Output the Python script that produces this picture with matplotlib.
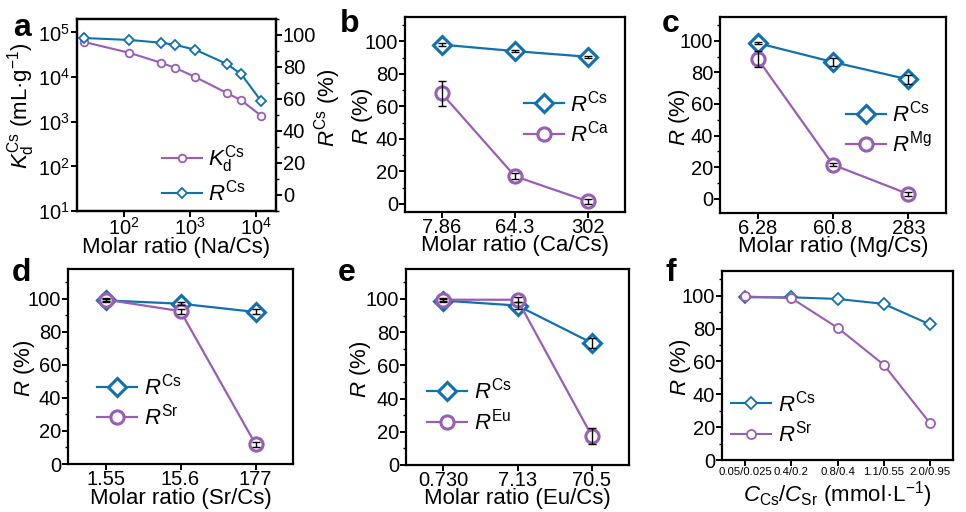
import numpy as np
import matplotlib
matplotlib.use('Agg')
import matplotlib.pyplot as plt
from matplotlib.ticker import MultipleLocator, LogLocator, NullFormatter

plt.rcParams['font.family'] = ['Liberation Sans', 'DejaVu Sans']
plt.rcParams['mathtext.fontset'] = 'custom'
plt.rcParams['mathtext.rm'] = 'Liberation Sans'
plt.rcParams['mathtext.it'] = 'Liberation Sans:italic'
plt.rcParams['mathtext.bf'] = 'Liberation Sans:bold'
plt.rcParams['axes.linewidth'] = 1.6
plt.rcParams['xtick.major.width'] = 1.4
plt.rcParams['ytick.major.width'] = 1.4
plt.rcParams['ytick.minor.width'] = 1.0

BLUE = '#1170b0'
PURPLE = '#9a5db5'
TICK_FS = 14.5
LAB_FS = 16

# panel a
na_ratio = [25, 120, 360, 600, 1200, 3600, 6000, 12000]
kd_cs = [61000, 35000, 21000, 16000, 10000, 4400, 3000, 1350]
r_cs_a = [98.1, 96.9, 95.2, 93.8, 90.8, 81.9, 75.4, 58.5]

# panel b
ca_labels = ['7.86', '64.3', '302']
b_cs = [98, 94, 90.5]
b_cs_err = [0.8, 0.8, 0.8]
b_ca = [68, 17, 1.5]
b_ca_err = [7.5, 1.8, 1.8]

# panel c
mg_labels = ['6.28', '60.8', '283']
c_cs = [98.5, 86.5, 75.5]
c_cs_err = [0.8, 2.5, 3.0]
c_mg = [88.5, 21.5, 3]
c_mg_err = [5.0, 1.0, 1.5]

# panel d
sr_labels = ['1.55', '15.6', '177']
d_cs = [99, 97, 92]
d_cs_err = [0.8, 1.0, 1.5]
d_sr = [99.5, 92.5, 12]
d_sr_err = [0.8, 1.5, 1.5]

# panel e
eu_labels = ['0.730', '7.13', '70.5']
e_cs = [99, 96, 73.5]
e_cs_err = [0.8, 2.0, 3.0]
e_eu = [99.5, 99.5, 17.5]
e_eu_err = [0.8, 1.5, 5.0]

# panel f
conc_labels = ['0.05/0.025', '0.4/0.2', '0.8/0.4', '1.1/0.55', '2.0/0.95']
f_cs = [99, 99, 98, 95, 82.5]
f_sr = [99.5, 98.5, 80.5, 58, 22.5]

W, H = 966, 512
fig = plt.figure(figsize=(W / 100, H / 100), dpi=100)

LEG_KW = dict(frameon=False, fontsize=LAB_FS, handlelength=1.8, handletextpad=0.3,
              labelspacing=0.2, borderpad=0, borderaxespad=0)


def add_ax(x0, y0, x1, y1):
    return fig.add_axes([x0 / W, 1 - y1 / H, (x1 - x0) / W, (y1 - y0) / H])


def style_r_axis(ax, ylab_x):
    ax.yaxis.set_major_locator(MultipleLocator(20))
    ax.yaxis.set_minor_locator(MultipleLocator(10))
    ax.tick_params(axis='both', which='major', labelsize=TICK_FS, direction='out', length=4, pad=1)
    ax.tick_params(axis='x', which='major', pad=0)
    ax.tick_params(axis='y', which='minor', direction='out', length=2.5)
    ax.set_ylabel(r'$\mathit{R}$ (%)', fontsize=LAB_FS)
    ax.yaxis.set_label_coords(ylab_x, 0.49)


def cat_panel(ax, labels, cs, cs_err, other, other_err, el, xlabel, ylim, legloc, anchor, ylab_x, xlab_y):
    x = np.arange(len(labels))
    ax.plot(x, cs, '-', color=BLUE, lw=1.6, marker='D', ms=9, mfc='white', mec=BLUE, mew=2.2,
            label=r'$\mathit{R}^{\mathrm{Cs}}$', zorder=3)
    ax.plot(x, other, '-', color=PURPLE, lw=1.6, marker='o', ms=9.5, mfc='white', mec=PURPLE, mew=2.2,
            label=r'$\mathit{R}^{\mathrm{' + el + '}}$', zorder=3)
    ax.errorbar(x, cs, yerr=cs_err, fmt='none', ecolor='black', elinewidth=1.0, capsize=3, zorder=4)
    ax.errorbar(x, other, yerr=other_err, fmt='none', ecolor='black', elinewidth=1.0, capsize=3, zorder=4)
    ax.set_xlim(-0.5, len(labels) - 0.5)
    ax.set_ylim(*ylim)
    ax.set_xticks(x)
    ax.set_xticklabels(labels)
    ax.set_xlabel(xlabel, fontsize=LAB_FS)
    ax.xaxis.set_label_coords(0.5, xlab_y)
    style_r_axis(ax, ylab_x)
    ax.legend(loc=legloc, bbox_to_anchor=anchor, **LEG_KW)


# ---- panel a
axa = add_ax(77, 19, 276, 211)
axa.set_xscale('log')
axa.set_yscale('log')
axa.plot(na_ratio, kd_cs, '-', color=PURPLE, lw=1.5, marker='o', ms=5.5, mfc='white', mec=PURPLE, mew=1.3,
         label=r'$\mathit{K}_{\mathrm{d}}^{\mathrm{Cs}}$')
axa.set_xlim(19.4, 20000)
axa.set_ylim(10, 2e5)
axa.yaxis.set_major_locator(LogLocator(base=10, numticks=10))
axa.yaxis.set_minor_formatter(NullFormatter())
axa.tick_params(axis='y', which='minor', left=False)
axa.tick_params(axis='x', which='minor', bottom=False)
axa.tick_params(axis='both', which='major', labelsize=TICK_FS, direction='out', length=4, pad=1)
axa.tick_params(axis='x', which='major', pad=0)
axa.set_xlabel('Molar ratio (Na/Cs)', fontsize=LAB_FS)
axa.xaxis.set_label_coords(0.5, -0.135)
axa.set_ylabel(r'$\mathit{K}_{\mathrm{d}}^{\mathrm{Cs}}$ (mL·g$^{-1}$)', fontsize=LAB_FS)
axa.yaxis.set_label_coords(-0.2, 0.55)
axa2 = axa.twinx()
axa2.plot(na_ratio, r_cs_a, '-', color=BLUE, lw=1.5, marker='D', ms=5.5, mfc='white', mec=BLUE, mew=1.3,
          label=r'$\mathit{R}^{\mathrm{Cs}}$')
axa2.set_ylim(-10, 110)
axa2.yaxis.set_major_locator(MultipleLocator(20))
axa2.yaxis.set_minor_locator(MultipleLocator(10))
axa2.tick_params(axis='y', which='major', labelsize=TICK_FS, direction='out', length=4, pad=1)
axa2.tick_params(axis='y', which='minor', direction='out', length=2.5)
axa2.set_ylabel(r'$\mathit{R}^{\mathrm{Cs}}$ (%)', fontsize=LAB_FS)
axa2.yaxis.set_label_coords(1.18, 0.54)
h1, l1 = axa.get_legend_handles_labels()
h2, l2 = axa2.get_legend_handles_labels()
axa2.legend(h1 + h2, l1 + l2, loc='center right', bbox_to_anchor=(0.85, 0.19), **LEG_KW)

# ---- panel b
axb = add_ax(405, 17, 625, 212)
cat_panel(axb, ca_labels, b_cs, b_cs_err, b_ca, b_ca_err, 'Ca', 'Molar ratio (Ca/Cs)', (-5, 115),
          'center right', (0.93, 0.48), -0.136, -0.118)

# ---- panel c
axc = add_ax(720, 17, 946, 213)
cat_panel(axc, mg_labels, c_cs, c_cs_err, c_mg, c_mg_err, 'Mg', 'Molar ratio (Mg/Cs)', (-9, 115),
          'center right', (0.94, 0.43), -0.124, -0.118)

# ---- panel d
axd = add_ax(68, 269, 293, 464)
cat_panel(axd, sr_labels, d_cs, d_cs_err, d_sr, d_sr_err, 'Sr', 'Molar ratio (Sr/Cs)', (0, 118),
          'center left', (0.13, 0.32), -0.138, -0.122)

# ---- panel e
axe = add_ax(406, 269, 629, 465)
cat_panel(axe, eu_labels, e_cs, e_cs_err, e_eu, e_eu_err, 'Eu', 'Molar ratio (Eu/Cs)', (0, 118),
          'center left', (0.094, 0.30), -0.148, -0.117)

# ---- panel f
axf = add_ax(722, 271, 953, 460)
xf = np.arange(len(conc_labels))
axf.plot(xf, f_cs, '-', color=BLUE, lw=1.5, marker='D', ms=6, mfc='white', mec=BLUE, mew=1.3,
         label=r'$\mathit{R}^{\mathrm{Cs}}$')
axf.plot(xf, f_sr, '-', color=PURPLE, lw=1.5, marker='o', ms=6.5, mfc='white', mec=PURPLE, mew=1.3,
         label=r'$\mathit{R}^{\mathrm{Sr}}$')
axf.set_xlim(-0.5, len(conc_labels) - 0.5)
axf.set_ylim(0, 115)
axf.set_xticks(xf)
axf.set_xticklabels(conc_labels)
style_r_axis(axf, -0.126)
axf.tick_params(axis='x', labelsize=8.2, pad=1)
axf.set_xlabel(r'$\mathit{C}_{\mathrm{Cs}}$/$\mathit{C}_{\mathrm{Sr}}$ (mmol·L$^{-1}$)', fontsize=LAB_FS)
axf.xaxis.set_label_coords(0.5, -0.1)
axf.legend(loc='center left', bbox_to_anchor=(0.04, 0.22), **LEG_KW)

# panel letters
for letter, (px, py) in zip('abcdef', [(13, 36), (340, 32), (662, 32), (12, 281), (338, 281), (665, 281)]):
    fig.text(px / W, 1 - py / H, letter, fontsize=23, fontweight='bold', ha='left', va='baseline')

fig.savefig('out.png', dpi=100)
